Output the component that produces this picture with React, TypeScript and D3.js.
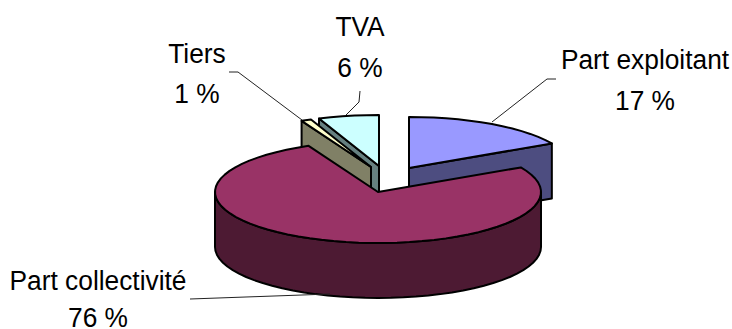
import React from "react";
import * as d3 from "d3";

const categories = ["Part exploitant", "Part collectivité", "Tiers", "TVA"];
const shares = [17, 76, 1, 6];
const percentLabels = ["17 %", "76 %", "1 %", "6 %"];
const topColors = ["#9999FF", "#993366", "#FFFFCC", "#CCFFFF"];
const wallColors = ["#4D4D80", "#4D1A33", "#808066", "#668080"];

// Pull of each wedge away from the pie centre, in pixels.
const explodeX = [31, 0, -7, 1];
const explodeY = [-24, 0, -25, -26];
const labelAnchors: [number, number, number][] = [
  [645, 69, 110],
  [98, 290, 327],
  [197, 63, 103],
  [360, 36, 77],
];
const leaderPaths: [number, number][][] = [
  [[492, 122], [547, 79], [556, 79]],
  [[190, 299], [330, 294]],
  [[302, 120], [238, 72], [229, 72]],
  [[346, 115], [359, 102], [360, 91]],
];

const WIDTH = 732;
const HEIGHT = 329;
const CX = 378;
const CY = 192;
const RX = 163;
const RY = 51;
const DEPTH = 55;
// Labels are set in a slightly condensed face.
const LABEL_SIZE = 28;
const LABEL_SQUEEZE = 0.94;

type Pt = [number, number];

const xScale = d3.scaleLinear().domain([-1, 1]).range([CX - RX, CX + RX]);
const yScale = d3.scaleLinear().domain([-1, 1]).range([CY - RY, CY + RY]);

const project = (a: number, dx: number, dy: number): Pt => [
  xScale(Math.sin(a)) + dx,
  yScale(-Math.cos(a)) + dy,
];

const sampleArc = (a0: number, a1: number, dx: number, dy: number): Pt[] => {
  const n = Math.max(1, Math.ceil(Math.abs(a1 - a0) / (Math.PI / 40)));
  return d3.range(n + 1).map((i) => project(a0 + ((a1 - a0) * i) / n, dx, dy));
};

const lowered = (pts: Pt[]): Pt[] => pts.map(([x, y]) => [x, y + DEPTH] as Pt);
const closed = d3.line().curve(d3.curveLinearClosed);
const open = d3.line();

const arcs = d3.pie<number>().sort(null).startAngle(0).endAngle(2 * Math.PI)(shares);

export default function App() {
  const stroke = { stroke: "#000", strokeWidth: 2, strokeLinejoin: "round" as const };

  const wedge = (i: number) => {
    const { startAngle: s, endAngle: e } = arcs[i];
    const dx = explodeX[i];
    const dy = explodeY[i];
    const apex: Pt = [CX + dx, CY + dy];
    const rim = sampleArc(s, e, dx, dy);
    const shapes: React.ReactNode[] = [];

    if (i === 1) {
      // The large wedge shows its curved outer wall from 90° round to 270°.
      const front = sampleArc(Math.PI / 2, (3 * Math.PI) / 2, dx, dy);
      shapes.push(
        <path key="outer" d={closed([...front, ...lowered(front).reverse()])!} fill={wallColors[i]} {...stroke} />
      );
    } else {
      // Cut face seen from the front, below the wedge's edge.
      const edge: Pt[] = i === 0 ? [apex, rim[rim.length - 1]] : [rim[0], apex];
      shapes.push(
        <path key="cut" d={closed([...edge, ...lowered(edge).reverse()])!} fill={wallColors[i]} {...stroke} />
      );
    }
    shapes.push(<path key="top" d={closed([apex, ...rim])!} fill={topColors[i]} {...stroke} />);
    return <g key={categories[i]}>{shapes}</g>;
  };

  const label = (text: string, x: number, y: number) => (
    <text key={text} transform={`translate(${x},${y}) scale(${LABEL_SQUEEZE},1)`} textAnchor="middle">
      {text}
    </text>
  );

  return (
    <svg
      width={WIDTH}
      height={HEIGHT}
      style={{ position: "absolute", left: 0, top: 0, background: "#fff" }}
      fontFamily="'Liberation Sans', Arial, sans-serif"
      fontSize={LABEL_SIZE}
      fill="#000"
    >
      {[3, 2, 0, 1].map(wedge)}
      {leaderPaths.map((p, i) => (
        <path key={i} d={open(p)!} fill="none" stroke="#222" strokeWidth={1} />
      ))}
      {categories.map((c, i) => (
        <g key={c}>
          {label(c, labelAnchors[i][0], labelAnchors[i][1])}
          {label(percentLabels[i], labelAnchors[i][0], labelAnchors[i][2])}
        </g>
      ))}
    </svg>
  );
}
